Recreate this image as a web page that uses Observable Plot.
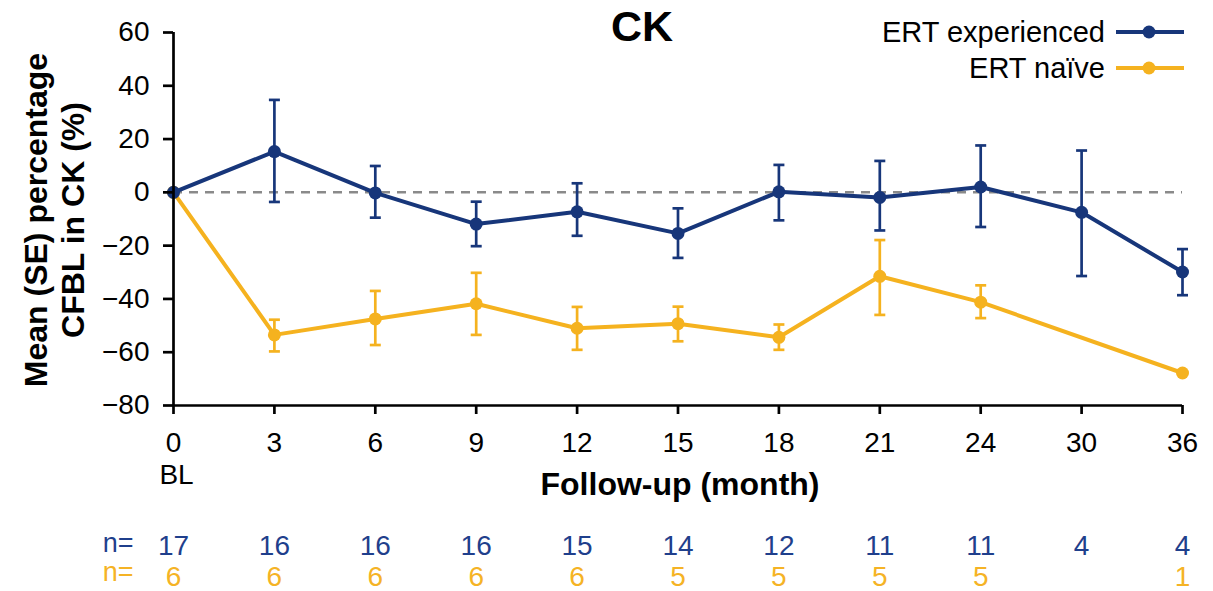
<!DOCTYPE html>
<html>
<head>
<meta charset="utf-8">
<script src="https://cdn.jsdelivr.net/npm/d3@7"></script>
<script src="https://cdn.jsdelivr.net/npm/@observablehq/plot@0.6"></script>
<style>
  body { margin: 0; background: #fff; font-family: "Liberation Sans", Arial, sans-serif; }
  #wrap { position: relative; width: 1213px; height: 591px; }
  .lg { position: absolute; right: 29px; height: 36px; display: flex; align-items: center; font-size: 29px; color: #000; }
  .lg svg { margin-left: 11px; }
</style>
</head>
<body>
<div id="wrap"></div>
<script>
// ---- data ----
const months = [0, 3, 6, 9, 12, 15, 18, 21, 24, 30, 36];
const expMean = [0, 15.3, -0.2, -11.9, -7.3, -15.4, 0.2, -1.9, 2.0, -7.5, -29.9];
const expLow  = [null, -3.6, -9.5, -20.2, -16.3, -24.6, -10.5, -14.3, -13.0, -31.4, -38.6];
const expHigh = [null, 34.7, 9.9, -3.5, 3.4, -6.0, 10.3, 11.8, 17.6, 15.7, -21.3];

const naiveMonths = [0, 3, 6, 9, 12, 15, 18, 21, 24, 36];
const naiveMean = [0, -53.5, -47.5, -41.8, -51.0, -49.3, -54.4, -31.5, -41.2, -67.8];
const naiveLow  = [null, -59.7, -57.3, -53.5, -59.1, -55.9, -59.1, -46.0, -47.2, null];
const naiveHigh = [null, -47.8, -37.0, -30.2, -43.0, -42.9, -49.6, -17.9, -34.9, null];

const nExp   = ["17", "16", "16", "16", "15", "14", "12", "11", "11", "4", "4"];
const nNaive = ["6", "6", "6", "6", "6", "5", "5", "5", "5", "", "1"];

const yTicks = [-80, -60, -40, -20, 0, 20, 40, 60];
const seriesNames = ["ERT experienced", "ERT naïve"];
const colors = ["#17367a", "#f5b21f"];
const nColors = ["#1f3f8c", "#f5b325"];

// ---- tables ----
const exp = months.map((m, i) => ({m, y: expMean[i], lo: expLow[i], hi: expHigh[i]}));
const nai = naiveMonths.map((m, i) => ({m, y: naiveMean[i], lo: naiveLow[i], hi: naiveHigh[i]}));
const expErr = exp.filter(d => d.lo != null);
const naiErr = nai.filter(d => d.lo != null);
const nRowsExp = months.map((m, i) => ({m, t: nExp[i]}));
const nRowsNai = months.map((m, i) => ({m, t: nNaive[i]}));

const cap = { draw(ctx, size) { const w = Math.sqrt(size / Math.PI); ctx.moveTo(-w, 0); ctx.lineTo(w, 0); } };

function errMarks(data, color) {
  return [
    Plot.ruleX(data, {x: "m", y1: "lo", y2: "hi", stroke: color, strokeWidth: 2.7}),
    Plot.dot(data, {x: "m", y: "hi", symbol: cap, r: 5.5, stroke: color, strokeWidth: 2.7, fill: "none"}),
    Plot.dot(data, {x: "m", y: "lo", symbol: cap, r: 5.5, stroke: color, strokeWidth: 2.7, fill: "none"})
  ];
}

const chart = Plot.plot({
  width: 1213,
  height: 591,
  marginTop: 32,
  marginBottom: 186,
  marginLeft: 173,
  marginRight: 31,
  style: {fontFamily: "Liberation Sans, Arial, sans-serif", color: "#000", background: "#fff", overflow: "visible"},
  x: {type: "point", domain: months, padding: 0, round: false},
  y: {domain: [-80, 60]},
  marks: [
    Plot.ruleY([0], {stroke: "#8a8a8a", strokeWidth: 2.5, strokeDasharray: "9,7"}),
    ...errMarks(naiErr, colors[1]),
    Plot.line(nai, {x: "m", y: "y", stroke: colors[1], strokeWidth: 4, strokeLinejoin: "round"}),
    Plot.dot(nai, {x: "m", y: "y", r: 6.5, fill: colors[1]}),
    ...errMarks(expErr, colors[0]),
    Plot.line(exp, {x: "m", y: "y", stroke: colors[0], strokeWidth: 4, strokeLinejoin: "round"}),
    Plot.dot(exp, {x: "m", y: "y", r: 6.5, fill: colors[0]}),
    Plot.ruleX([0], {stroke: "#000", strokeWidth: 2.7}),
    Plot.ruleY([-80], {stroke: "#000", strokeWidth: 2.7}),
    Plot.axisY({ticks: yTicks, tickSize: 10, tickPadding: 14, fontSize: 28, strokeWidth: 2.7, label: null}),
    Plot.axisX({tickSize: 9, tickPadding: 18, fontSize: 28, strokeWidth: 2.7, label: null}),
    Plot.text(["BL"], {x: () => 0, frameAnchor: "bottom", lineAnchor: "middle", dy: 69.5, dx: 3, fontSize: 28}),
    Plot.text(["Follow-up (month)"], {frameAnchor: "bottom", lineAnchor: "middle", dy: 79, dx: 2, fontSize: 32, fontWeight: "bold"}),
    Plot.text(["Mean (SE) percentage\nCFBL in CK (%)"], {frameAnchor: "left", textAnchor: "middle", lineAnchor: "middle", rotate: -90, dx: -120, dy: 1, fontSize: 32, fontWeight: "bold", lineHeight: 1.18}),
    Plot.text(["CK"], {frameAnchor: "top", lineAnchor: "middle", dx: -36, dy: -5, fontSize: 43, fontWeight: "bold"}),
    Plot.text(nRowsExp, {x: "m", text: "t", frameAnchor: "bottom", lineAnchor: "middle", dy: 140.5, fontSize: 28, fill: nColors[0]}),
    Plot.text(nRowsNai, {x: "m", text: "t", frameAnchor: "bottom", lineAnchor: "middle", dy: 172, fontSize: 28, fill: nColors[1]}),
    Plot.text(["n="], {x: () => 0, frameAnchor: "bottom", lineAnchor: "middle", dy: 138, dx: -40, textAnchor: "end", fontSize: 27, fill: nColors[0]}),
    Plot.text(["n="], {x: () => 0, frameAnchor: "bottom", lineAnchor: "middle", dy: 167, dx: -40, textAnchor: "end", fontSize: 27, fill: nColors[1]})
  ]
});

const wrap = document.getElementById("wrap");
wrap.appendChild(chart);

// legend (HTML overlay, top right)
const tops = [14, 50];
seriesNames.forEach((name, i) => {
  const row = document.createElement("div");
  row.className = "lg";
  row.style.top = tops[i] + "px";
  const span = document.createElement("span");
  span.textContent = name;
  row.appendChild(span);
  const ns = "http://www.w3.org/2000/svg";
  const sw = document.createElementNS(ns, "svg");
  sw.setAttribute("width", 68); sw.setAttribute("height", 16);
  const ln = document.createElementNS(ns, "line");
  ln.setAttribute("x1", 0); ln.setAttribute("x2", 68); ln.setAttribute("y1", 8); ln.setAttribute("y2", 8);
  ln.setAttribute("stroke", colors[i]); ln.setAttribute("stroke-width", 4);
  const c = document.createElementNS(ns, "circle");
  c.setAttribute("cx", 33); c.setAttribute("cy", 8); c.setAttribute("r", 6.5); c.setAttribute("fill", colors[i]);
  sw.appendChild(ln); sw.appendChild(c);
  row.appendChild(sw);
  wrap.appendChild(row);
});
</script>
</body>
</html>
